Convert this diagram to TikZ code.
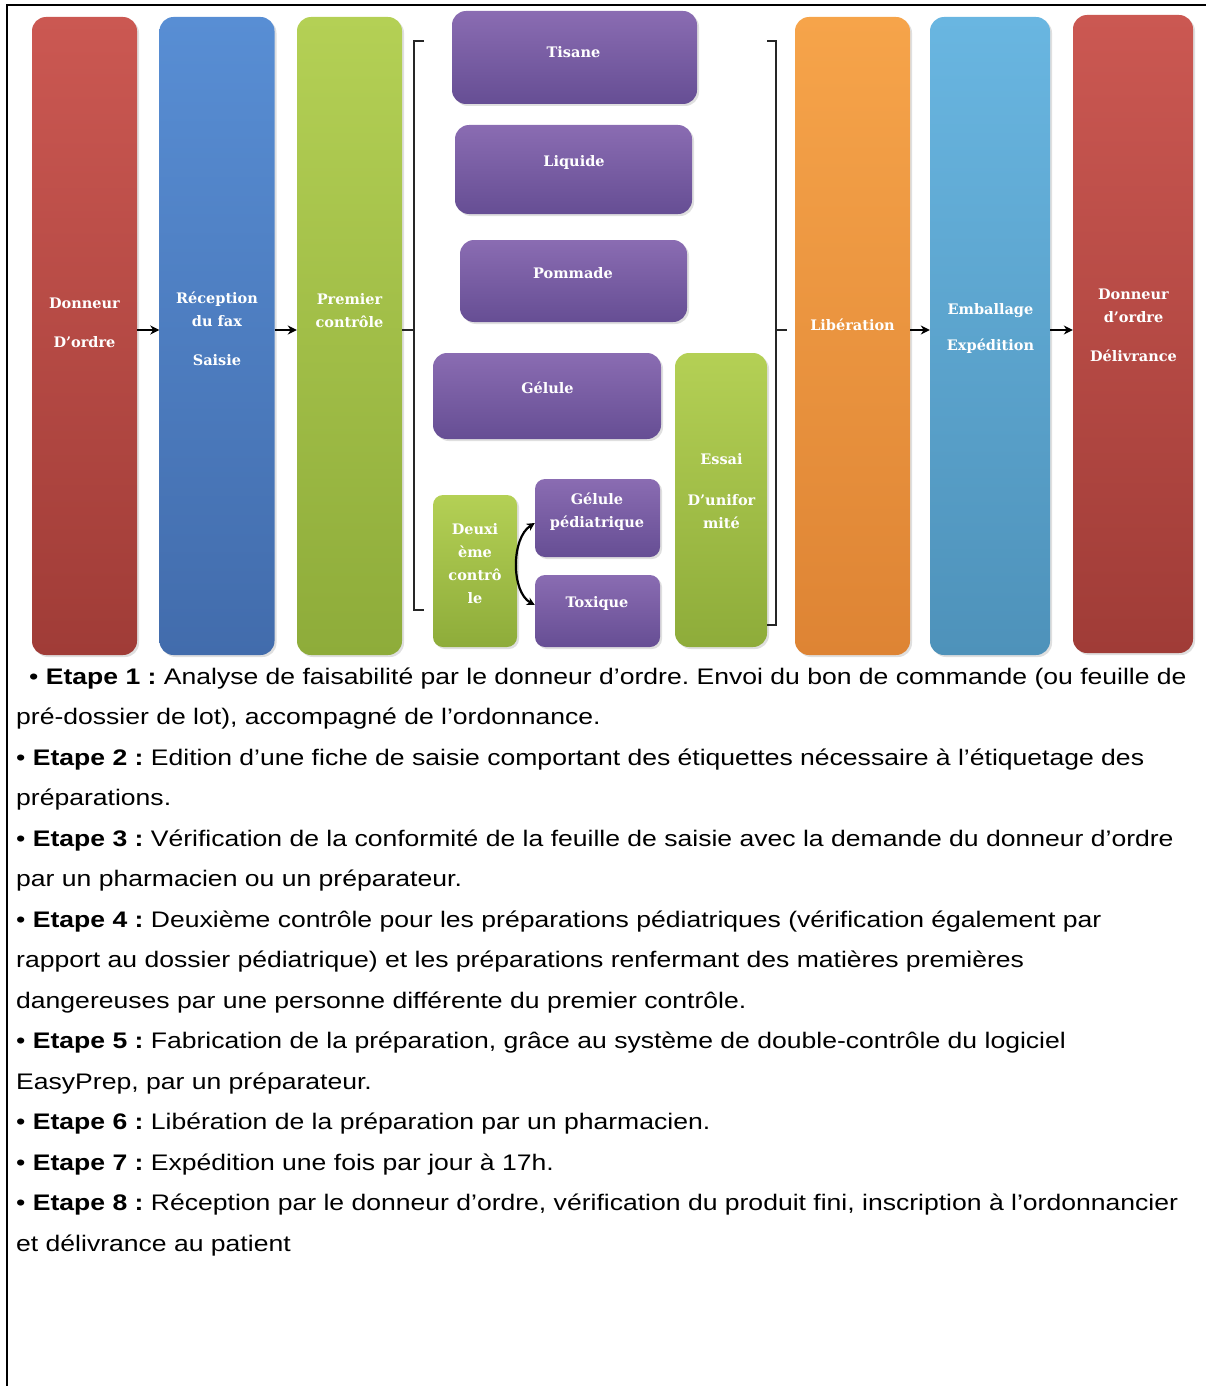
\documentclass[tikz,border=0pt]{standalone}
\usepackage{fontspec}
\setmainfont{Liberation Sans}[FakeStretch=1.18]
\newfontfamily\boxfont{DejaVu Serif}
\usetikzlibrary{arrows.meta,shadows}

\definecolor{rougeh}{RGB}{203,88,82}
\definecolor{rougeb}{RGB}{160,60,55}
\definecolor{bleuh}{RGB}{88,142,212}
\definecolor{bleub}{RGB}{66,108,172}
\definecolor{verth}{RGB}{180,208,85}
\definecolor{vertb}{RGB}{142,172,58}
\definecolor{violeth}{RGB}{138,108,178}
\definecolor{violetb}{RGB}{102,78,148}
\definecolor{orangeh}{RGB}{246,164,74}
\definecolor{orangeb}{RGB}{222,132,52}
\definecolor{cielh}{RGB}{105,182,225}
\definecolor{cielb}{RGB}{78,146,186}

\tikzset{
  colbox/.style 2 args={top color=#1, bottom color=#2, draw=none, rounded corners=14pt,
    inner sep=0pt, drop shadow={opacity=0.25, shadow xshift=2pt, shadow yshift=-2pt}},
  lbl/.style={text=white, align=center, inner sep=0pt,
    font=\boxfont\bfseries\fontsize{14.5}{23}\selectfont},
  fl/.style={line width=2.4pt, -{Stealth[length=9pt,width=9pt]}},
  fldouble/.style={line width=2.2pt, {Stealth[length=8pt,width=8pt]}-{Stealth[length=8pt,width=8pt]}},
  acc/.style={line width=2.2pt, black!85},
  txt/.style={anchor=base west, inner sep=0pt, font=\fontsize{22.5}{26}\selectfont},
}

\begin{document}
\frenchspacing
\begin{tikzpicture}[x=1pt,y=-1pt]
    \useasboundingbox (0,0) rectangle (1206,1386);

    % Cadre
    \draw[line width=2.4pt] (7,1386) -- (7,5) -- (1206,5);

    % Colonnes
    \node[colbox={rougeh}{rougeb}, minimum width=105pt, minimum height=638pt] (b1) at (84.5,336) {};
    \node[colbox={bleuh}{bleub}, minimum width=115pt, minimum height=638pt] (b2) at (217,336) {};
    \node[colbox={verth}{vertb}, minimum width=105pt, minimum height=638pt] (b3) at (349.5,336) {};
    \node[colbox={orangeh}{orangeb}, minimum width=115pt, minimum height=638pt] (b6) at (852.5,336) {};
    \node[colbox={cielh}{cielb}, minimum width=120pt, minimum height=638pt] (b7) at (990,336) {};
    \node[colbox={rougeh}{rougeb}, minimum width=120pt, minimum height=638pt] (b8) at (1133,334) {};

    % Formes
    \node[colbox={violeth}{violetb}, minimum width=245pt, minimum height=93pt] (tis) at (574.5,57.5) {};
    \node[colbox={violeth}{violetb}, minimum width=237pt, minimum height=89pt] (liq) at (573.5,169.5) {};
    \node[colbox={violeth}{violetb}, minimum width=227pt, minimum height=82pt] (pom) at (573.5,281) {};
    \node[colbox={violeth}{violetb}, minimum width=228pt, minimum height=86pt] (gel) at (547,396) {};
    \node[colbox={violeth}{violetb}, minimum width=125pt, minimum height=78pt, rounded corners=10pt] (gp) at (597.5,518) {};
    \node[colbox={violeth}{violetb}, minimum width=125pt, minimum height=72pt, rounded corners=10pt] (tox) at (597.5,611) {};
    \node[colbox={verth}{vertb}, minimum width=84pt, minimum height=152pt, rounded corners=10pt] (deux) at (475,571) {};
    \node[colbox={verth}{vertb}, minimum width=92pt, minimum height=294pt] (ess) at (721,500) {};

    % Etiquettes
    \node[lbl] (l1) at (84.5,322.5) {Donneur\\[16pt]D’ordre};
    \node[lbl] (l2) at (217,329) {Réception\\du fax\\[16pt]Saisie};
    \node[lbl] (l3) at (349.5,310.5) {Premier\\contrôle};
    \node[lbl] (l6) at (852.5,325) {Libération};
    \node[lbl] (l7) at (990.5,328) {Emballage\\[13pt]Expédition};
    \node[lbl] (l8) at (1133.5,325.5) {Donneur\\d’ordre\\[16pt]Délivrance};
    \node[lbl] (ltis) at (573.5,52) {Tisane};
    \node[lbl] (lliq) at (574,162) {Liquide};
    \node[lbl] (lpom) at (573,273) {Pommade};
    \node[lbl] (lgel) at (547.5,388) {Gélule};
    \node[lbl] (lgp) at (597,511.5) {Gélule\\pédiatrique};
    \node[lbl] (ltox) at (597,603) {Toxique};
    \node[lbl] (ldeux) at (475,563.5) {Deuxi\\ème\\contrô\\le};
    \node[lbl] (less) at (721.5,491.5) {Essai\\[18pt]D’unifor\\mité};

    % Fleches
    \draw[fl] ([yshift=6pt]b1.east) -- ([yshift=6pt]b1.east -| b2.west);
    \draw[fl] ([yshift=6pt]b2.east) -- ([yshift=6pt]b2.east -| b3.west);
    \draw[fl] ([yshift=6pt]b6.east) -- ([yshift=6pt]b6.east -| b7.west);
    \draw[fl] ([yshift=6pt]b7.east) -- ([yshift=6pt]b7.east -| b8.west);
    \draw[fldouble] ([yshift=-5pt]gp.west) .. controls (511,538) and (511,592) .. ([yshift=6pt]tox.west);

    % Crochets
    \draw[acc] (424,41) -- (414,41) -- (414,610) -- (424,610);
    \draw[acc] ([yshift=6pt]b3.east) -- (414,330);
    \draw[acc] (767,41) -- (776,41) -- (776,625) -- (767,625);
    \draw[acc] (776,330) -- (787,330);

    % Etapes
    \node[txt] (e1a) at (29,684) {• \textbf{Etape 1 :} Analyse de faisabilité par le donneur d’ordre. Envoi du bon de commande (ou feuille de};
    \node[txt] (e1b) at (16,724.5) {pré-dossier de lot), accompagné de l’ordonnance.};
    \node[txt] (e2a) at (16,765) {• \textbf{Etape 2 :} Edition d’une fiche de saisie comportant des étiquettes nécessaire à l’étiquetage des};
    \node[txt] (e2b) at (16,805.5) {préparations.};
    \node[txt] (e3a) at (16,846) {• \textbf{Etape 3 :} Vérification de la conformité de la feuille de saisie avec la demande du donneur d’ordre};
    \node[txt] (e3b) at (16,886.5) {par un pharmacien ou un préparateur.};
    \node[txt] (e4a) at (16,927) {• \textbf{Etape 4 :} Deuxième contrôle pour les préparations pédiatriques (vérification également par};
    \node[txt] (e4b) at (16,967.5) {rapport au dossier pédiatrique) et les préparations renfermant des matières premières};
    \node[txt] (e4c) at (16,1008) {dangereuses par une personne différente du premier contrôle.};
    \node[txt] (e5a) at (16,1048.5) {• \textbf{Etape 5 :} Fabrication de la préparation, grâce au système de double-contrôle du logiciel};
    \node[txt] (e5b) at (16,1089) {EasyPrep, par un préparateur.};
    \node[txt] (e6) at (16,1129.5) {• \textbf{Etape 6 :} Libération de la préparation par un pharmacien.};
    \node[txt] (e7) at (16,1170) {• \textbf{Etape 7 :} Expédition une fois par jour à 17h.};
    \node[txt] (e8a) at (16,1210.5) {• \textbf{Etape 8 :} Réception par le donneur d’ordre, vérification du produit fini, inscription à l’ordonnancier};
    \node[txt] (e8b) at (16,1251) {et délivrance au patient};
\end{tikzpicture}
\end{document}
